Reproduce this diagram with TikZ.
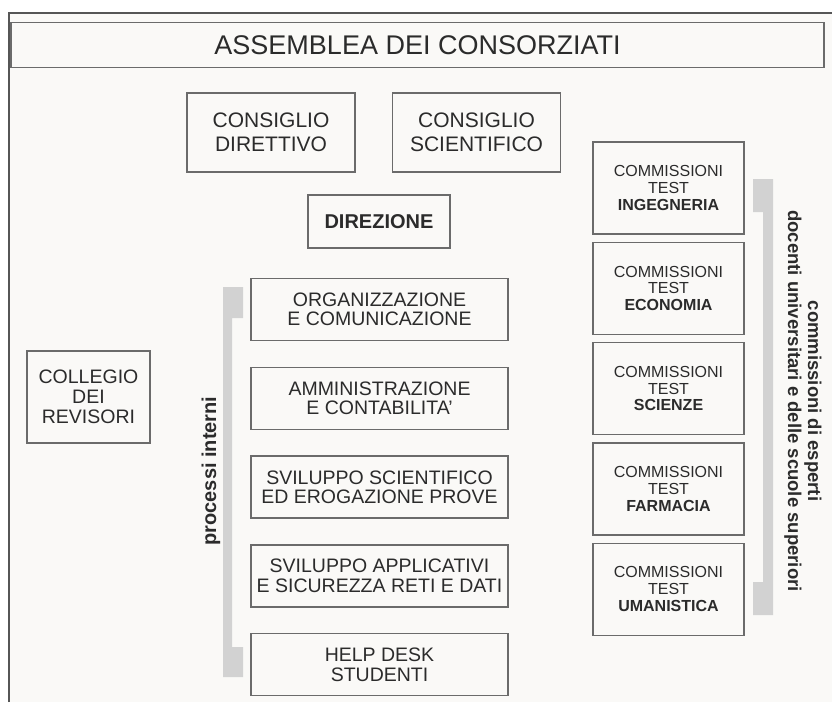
\documentclass[tikz,border=0pt]{standalone}
\usepackage{fontspec}
\setmainfont{Liberation Sans}
\usetikzlibrary{positioning}
\definecolor{sfondo}{HTML}{FAF9F7}
\definecolor{bordo}{HTML}{6B6B6B}
\definecolor{testo}{HTML}{2B2B2B}
\definecolor{barra}{HTML}{D2D2D2}
\begin{document}
\begin{tikzpicture}[x=1pt, y=-1pt,
    every node/.style={align=center, text=testo, inner sep=0pt, outer sep=0pt},
    riquadro/.style={draw=bordo, line width=1.4pt, fill=sfondo},
    consbox/.style={riquadro, minimum width=168pt, minimum height=79pt, font=\fontsize{21}{23.5}\selectfont},
    procbox/.style={riquadro, minimum width=257pt, minimum height=62pt, font=\fontsize{19.5}{19.5}\selectfont},
    commbox/.style={riquadro, minimum width=151pt, minimum height=92pt, font=\fontsize{16}{16.8}\selectfont}]
    \useasboundingbox (0,0) rectangle (832,702);
    \fill[white] (0,0) rectangle (832,702);
    \fill[sfondo] (9,13) rectangle (832,702);
    \draw[bordo!80!black, line width=1.4pt] (9,702) -- (9,13) -- (832,13);
    % Vertice
    \node[riquadro, minimum width=813pt, minimum height=45pt, font=\fontsize{27}{27}\selectfont] (assemblea) at (417.5,45) {ASSEMBLEA DEI CONSORZIATI};
    \node[consbox] (cdir) at (271,132.5) {CONSIGLIO\\DIRETTIVO};
    \node[consbox] (csci) at (476.5,132.5) {CONSIGLIO\\SCIENTIFICO};
    \node[riquadro, minimum width=142pt, minimum height=53pt, font=\bfseries\fontsize{20}{20}\selectfont] (direz) at (379,221.5) {DIREZIONE};
    \node[riquadro, minimum width=123pt, minimum height=92pt, font=\fontsize{19.5}{20}\selectfont] (revisori) at (88.5,397) {COLLEGIO\\DEI\\REVISORI};
    % Processi interni
    \begin{scope}[node distance=26.8pt]
        \node[procbox] (org) at (379.5,309.5) {ORGANIZZAZIONE\\E COMUNICAZIONE};
        \node[procbox, below=of org] (amm) {AMMINISTRAZIONE\\E CONTABILITA'};
        \node[procbox, below=of amm] (svsci) {SVILUPPO SCIENTIFICO\\ED EROGAZIONE PROVE};
        \node[procbox, below=of svsci] (svapp) {SVILUPPO APPLICATIVI\\E SICUREZZA RETI E DATI};
        \node[procbox, below=of svapp] (help) {HELP DESK\\STUDENTI};
    \end{scope}
    \fill[barra] (223,287) -- (243,287) -- (243,318) -- (232,318) -- (232,647) -- (243,647) -- (243,677) -- (223,677) -- cycle;
    \node[rotate=90, font=\bfseries\fontsize{20}{20}\selectfont] (processi) at (211,471) {processi interni};
    % Commissioni test
    \begin{scope}[node distance=8.3pt]
        \node[commbox] (ing) at (668.5,188) {COMMISSIONI\\TEST\\\textbf{INGEGNERIA}};
        \node[commbox, below=of ing] (eco) {COMMISSIONI\\TEST\\\textbf{ECONOMIA}};
        \node[commbox, below=of eco] (sci) {COMMISSIONI\\TEST\\\textbf{SCIENZE}};
        \node[commbox, below=of sci] (far) {COMMISSIONI\\TEST\\\textbf{FARMACIA}};
        \node[commbox, below=of far] (uma) {COMMISSIONI\\TEST\\\textbf{UMANISTICA}};
    \end{scope}
    \fill[barra] (773,179) -- (753,179) -- (753,212) -- (763,212) -- (763,582) -- (753,582) -- (753,615) -- (773,615) -- cycle;
    \node[rotate=-90, font=\bfseries\fontsize{18.5}{20}\selectfont] (esperti) at (803,401) {commissioni di esperti\\docenti universitari e delle scuole superiori};
\end{tikzpicture}
\end{document}
